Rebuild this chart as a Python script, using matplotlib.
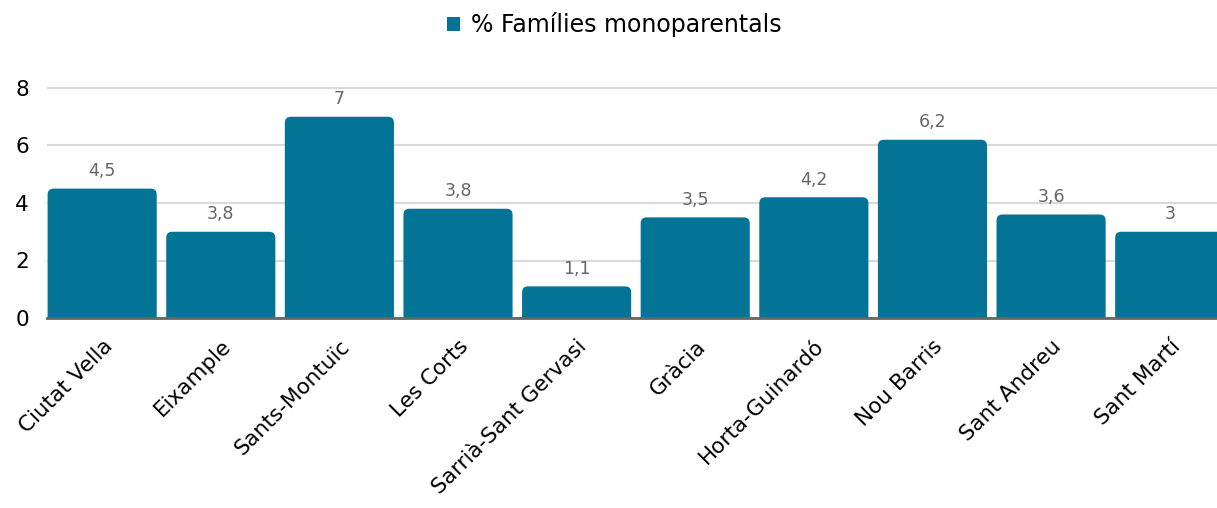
import matplotlib.pyplot as plt
from matplotlib.patches import FancyBboxPatch, Patch
import numpy as np

districtes = ["Ciutat Vella", "Eixample", "Sants-Montuïc", "Les Corts", "Sarrià-Sant Gervasi",
              "Gràcia", "Horta-Guinardó", "Nou Barris", "Sant Andreu", "Sant Martí"]
valors = [4.5, 3.0, 7.0, 3.8, 1.1, 3.5, 4.2, 6.2, 3.6, 3.0]
etiquetes = ["4,5", "3,8", "7", "3,8", "1,1", "3,5", "4,2", "6,2", "3,6", "3"]
serie = "% Famílies monoparentals"
yticks = [0, 2, 4, 6, 8]

blau = "#037396"
W, H = 1217, 508

plt.rcParams['font.family'] = ['DejaVu Sans']
fig = plt.figure(figsize=(W / 100, H / 100), dpi=100)
ytop = 8.06
px_y = 230 / 8
ax = fig.add_axes([47 / W, 190 / H, 1182 / W, px_y * ytop / H])

x = np.arange(len(districtes))
bars = ax.bar(x, valors, width=0.92, color=blau)

# rounded tops: replace each rectangle with a rounded box that dips below 0
ax.set_xlim(-0.465, 9.5)
ax.set_ylim(0, ytop)
px_x = 1182 / 9.965
r = 6 / px_x
for b in bars:
    b.set_visible(False)
    p = FancyBboxPatch((b.get_x(), -0.6), b.get_width(), b.get_height() + 0.6,
                       boxstyle=f"round,pad=0,rounding_size={r}",
                       mutation_aspect=px_x / px_y,
                       facecolor=blau, edgecolor="none", zorder=2)
    ax.add_patch(p)

ax.bar_label(bars, labels=etiquetes, padding=6, color="#666666", fontsize=12.5)

ax.set_yticks(yticks)
ax.yaxis.grid(True, color="#d9d9d9", linewidth=1.5)
ax.set_axisbelow(True)
for s in ["top", "right", "left"]:
    ax.spines[s].set_visible(False)
ax.spines["bottom"].set_color("#666666")
ax.spines["bottom"].set_linewidth(2)
ax.spines["bottom"].set_zorder(3)

ax.set_xticks(x, districtes, rotation=45, ha="right", rotation_mode="anchor", fontsize=15.5)
ax.tick_params(axis="x", length=0, pad=13)
ax.tick_params(axis="y", length=0, pad=13, labelsize=15.5)

fig.legend(handles=[Patch(facecolor=blau, label=serie)], loc="upper center",
           bbox_to_anchor=(0.505, 1.018), frameon=False, fontsize=17,
           handlelength=0.55, handleheight=0.55, handletextpad=0.45)

plt.savefig("out.png", dpi=100)
